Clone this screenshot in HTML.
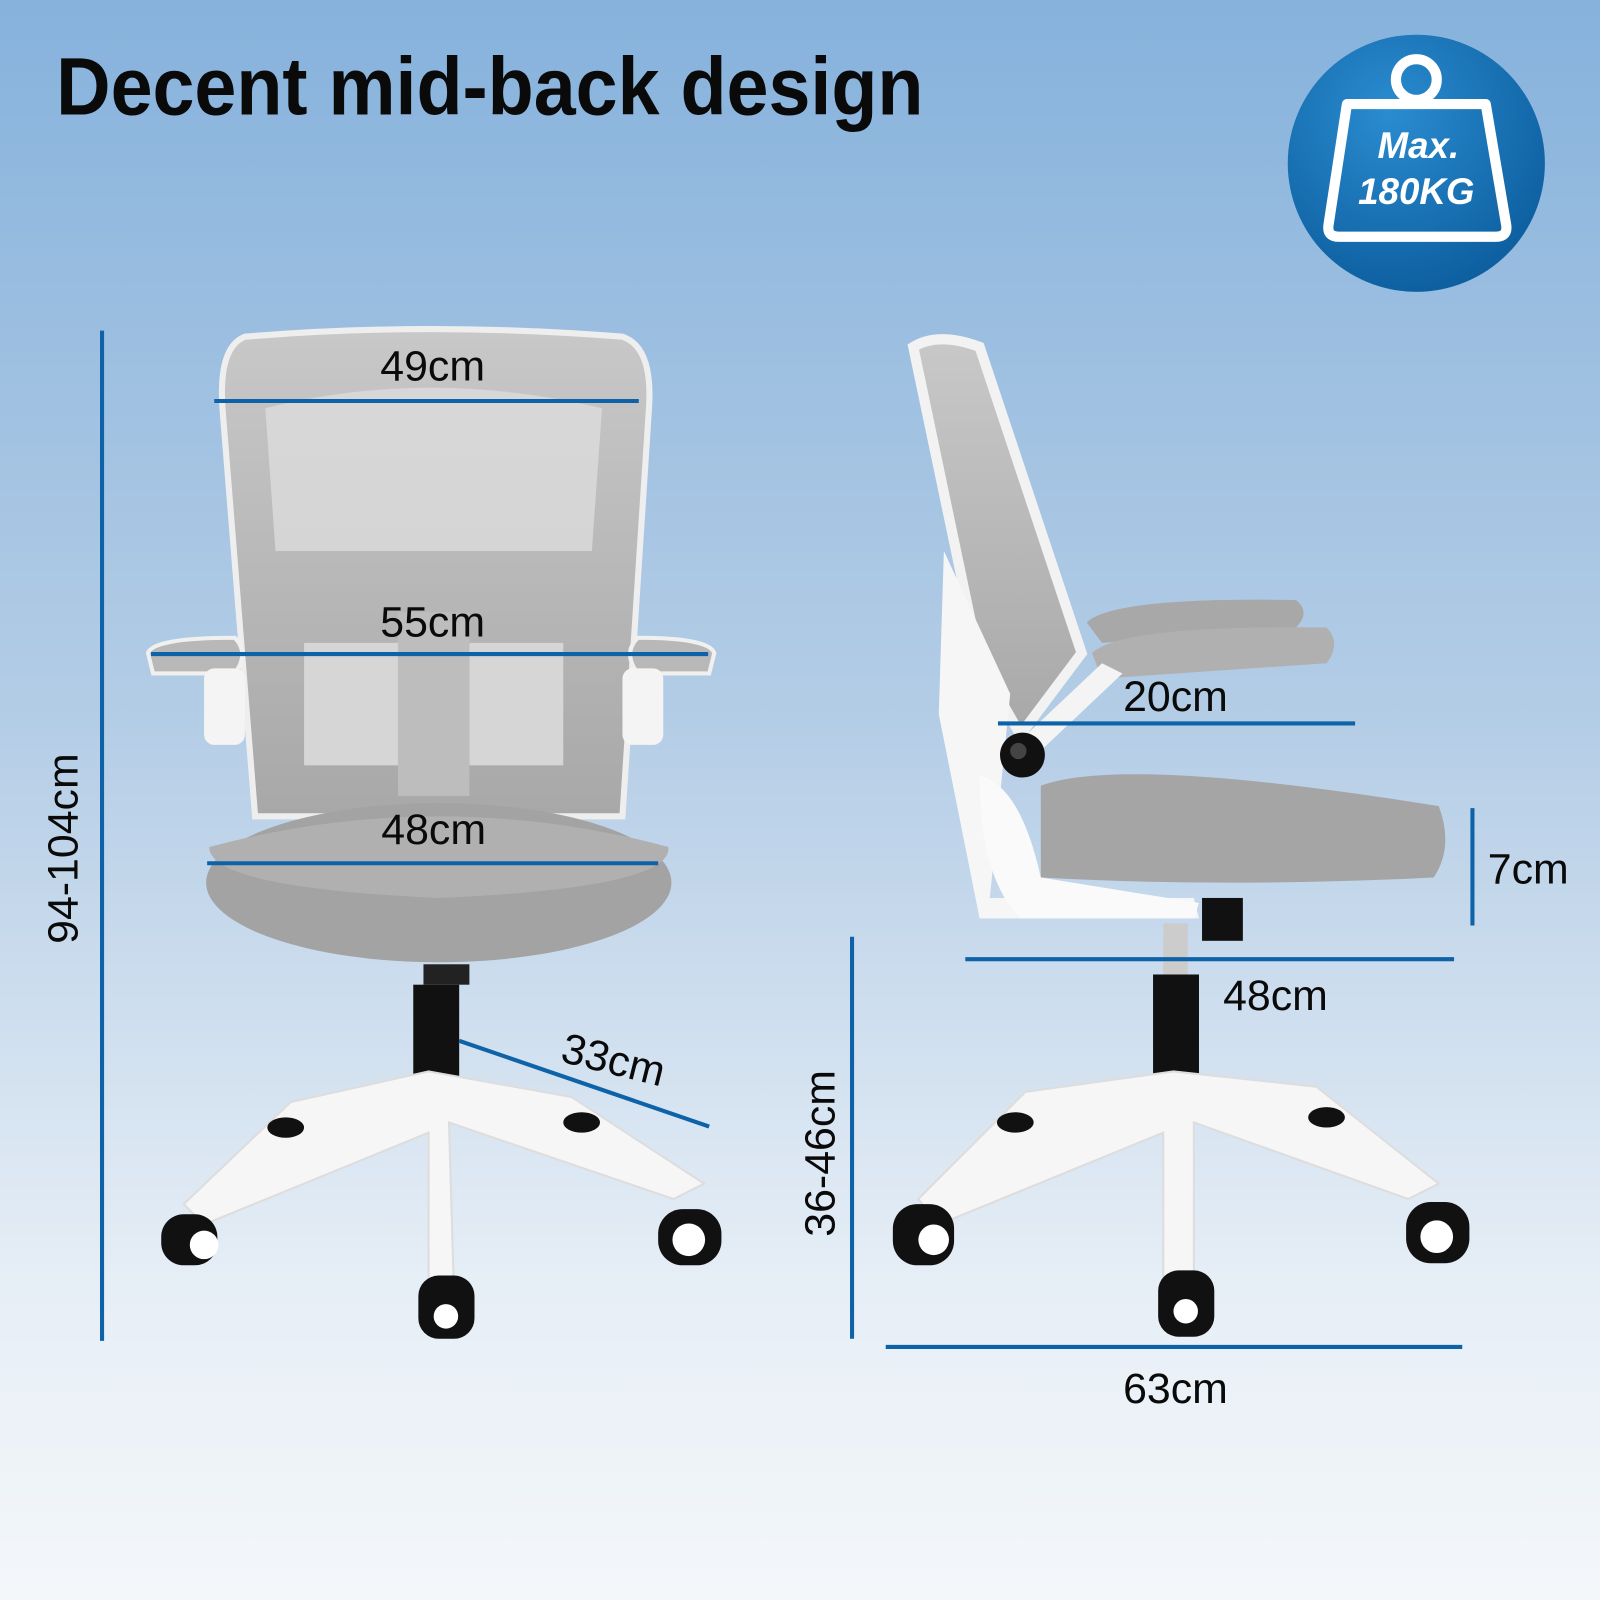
<!DOCTYPE html>
<html><head><meta charset="utf-8"><style>
html,body{margin:0;padding:0;width:1600px;height:1600px;overflow:hidden}
svg{display:block}
text{font-family:"Liberation Sans",sans-serif}
</style></head><body>
<svg width="1600" height="1600" viewBox="0 0 1568 1568" xmlns="http://www.w3.org/2000/svg">
<defs>
<linearGradient id="bg" x1="0" y1="0" x2="0" y2="1">
<stop offset="0" stop-color="#86b2dc"/><stop offset="0.45" stop-color="#b4cde6"/><stop offset="0.8" stop-color="#e6eef6"/><stop offset="1" stop-color="#f4f7fa"/></linearGradient>
<radialGradient id="badge" cx="0.4" cy="0.3" r="0.8"><stop offset="0" stop-color="#2a8cd0"/><stop offset="1" stop-color="#0a5a9a"/></radialGradient>
<linearGradient id="mesh" x1="0" y1="0" x2="0" y2="1"><stop offset="0" stop-color="#c8c8c8"/><stop offset="1" stop-color="#a8a8a8"/></linearGradient>
</defs>
<rect width="1568" height="1568" fill="url(#bg)"/>
<text x="55" y="112" font-size="80" font-weight="bold" fill="#0a0a0a" textLength="850" lengthAdjust="spacingAndGlyphs">Decent mid-back design</text>
<circle cx="1388" cy="160" r="126" fill="url(#badge)"/>
<circle cx="1388" cy="78" r="20" fill="none" stroke="#fff" stroke-width="10"/>
<path d="M1320 102 H1456 L1476 220 Q1478 232 1466 232 H1312 Q1300 232 1302 220 Z" fill="none" stroke="#fff" stroke-width="10" stroke-linejoin="round"/>
<text x="1390" y="155" font-size="36" font-weight="bold" font-style="italic" fill="#fff" text-anchor="middle">Max.</text>
<text x="1388" y="200" font-size="36" font-weight="bold" font-style="italic" fill="#fff" text-anchor="middle">180KG</text>

<g>
<path d="M240 330 Q420 315 610 330 Q640 340 636 400 L610 800 H250 L218 400 Q214 340 240 330Z" fill="url(#mesh)" stroke="#eee" stroke-width="6"/>
<path d="M260 400 Q420 360 590 400 L580 540 H270Z" fill="#dcdcdc" opacity="0.8"/>
<rect x="298" y="630" width="92" height="120" fill="#d6d6d6"/><rect x="460" y="630" width="92" height="120" fill="#d6d6d6"/>
<rect x="390" y="600" width="70" height="180" fill="#bdbdbd"/>
<path d="M145 640 Q150 625 230 625 Q245 640 230 660 H150Z" fill="#b8b8b8" stroke="#f0f0f0" stroke-width="4"/>
<path d="M700 640 Q695 625 625 625 Q610 640 625 660 H695Z" fill="#b8b8b8" stroke="#f0f0f0" stroke-width="4"/>
<rect x="200" y="655" width="40" height="75" rx="10" fill="#f4f4f4"/><rect x="610" y="655" width="40" height="75" rx="10" fill="#f4f4f4"/>
<ellipse cx="430" cy="865" rx="228" ry="78" fill="#a3a3a3"/>
<path d="M205 830 Q430 770 655 830 Q660 870 430 880 Q205 870 205 830Z" fill="#b0b0b0"/>
<rect x="405" y="965" width="45" height="100" fill="#111"/>
<rect x="415" y="945" width="45" height="20" fill="#222"/>
<path d="M285 1080 L420 1050 L560 1075 L690 1160 L660 1175 L440 1100 L445 1270 L420 1270 L420 1110 L200 1200 L180 1180 Z" fill="#f6f6f6" stroke="#ddd" stroke-width="2"/>
<g fill="#111"><rect x="158" y="1190" width="55" height="50" rx="22"/><rect x="645" y="1185" width="62" height="55" rx="24"/><rect x="410" y="1250" width="55" height="62" rx="20"/><ellipse cx="280" cy="1105" rx="18" ry="10"/><ellipse cx="570" cy="1100" rx="18" ry="10"/></g>
<g fill="#fff"><circle cx="200" cy="1220" r="14"/><circle cx="675" cy="1215" r="16"/><circle cx="437" cy="1290" r="12"/></g>
</g>

<g>
<path d="M895 340 Q920 325 960 340 L1060 640 L1000 720 L960 650 Z" fill="url(#mesh)" stroke="#f2f2f2" stroke-width="10"/>
<path d="M925 540 L990 680 L970 880 L1170 880 L1175 900 L960 900 L920 700Z" fill="#f6f6f6"/>
<path d="M1065 610 Q1090 585 1270 588 Q1285 600 1270 615 L1080 630Z" fill="#a8a8a8"/>
<path d="M1070 640 Q1100 612 1300 615 Q1315 630 1300 650 L1080 665Z" fill="#b0b0b0"/>
<path d="M990 735 L1080 650 L1100 660 L1010 745Z" fill="#f4f4f4"/>
<path d="M1020 770 Q1100 740 1410 790 Q1425 830 1405 860 Q1200 870 1020 860Z" fill="#a5a5a5"/>
<path d="M960 760 Q1000 770 1020 860 L1175 885 L1170 900 L1000 900 Q960 860 960 760Z" fill="#fafafa"/>
<circle cx="1002" cy="740" r="22" fill="#111"/><circle cx="998" cy="736" r="8" fill="#444"/>
<rect x="1178" y="880" width="40" height="42" fill="#111"/>
<rect x="1140" y="905" width="24" height="50" fill="#ccc"/>
<rect x="1130" y="955" width="45" height="100" fill="#111"/>
<path d="M1005 1070 L1150 1050 L1290 1065 L1410 1160 L1380 1175 L1170 1100 L1170 1260 L1140 1260 L1140 1110 L920 1200 L900 1175Z" fill="#f6f6f6" stroke="#ddd" stroke-width="2"/>
<g fill="#111"><rect x="875" y="1180" width="60" height="60" rx="24"/><rect x="1378" y="1178" width="62" height="60" rx="24"/><rect x="1135" y="1245" width="55" height="65" rx="20"/><ellipse cx="995" cy="1100" rx="18" ry="10"/><ellipse cx="1300" cy="1095" rx="18" ry="10"/></g>
<g fill="#fff"><circle cx="915" cy="1215" r="15"/><circle cx="1408" cy="1212" r="16"/><circle cx="1162" cy="1285" r="12"/></g>
</g>

<g stroke="#0d62a8" stroke-width="4">
<line x1="100" y1="324" x2="100" y2="1314"/>
<line x1="210" y1="393" x2="626" y2="393"/>
<line x1="148" y1="641" x2="694" y2="641"/>
<line x1="203" y1="846" x2="645" y2="846"/>
<line x1="450" y1="1020" x2="695" y2="1104"/>
<line x1="835" y1="918" x2="835" y2="1312"/>
<line x1="978" y1="709" x2="1328" y2="709"/>
<line x1="1443" y1="792" x2="1443" y2="907"/>
<line x1="946" y1="940" x2="1425" y2="940"/>
<line x1="868" y1="1320" x2="1433" y2="1320"/>
</g>
<g font-size="42" fill="#0a0a0a">
<text x="424" y="373" text-anchor="middle">49cm</text>
<text x="424" y="624" text-anchor="middle">55cm</text>
<text x="425" y="827" text-anchor="middle">48cm</text>
<text x="0" y="0" transform="translate(548 1040) rotate(14)">33cm</text>
<text x="0" y="0" transform="translate(76 925) rotate(-90)">94-104cm</text>
<text x="0" y="0" transform="translate(818 1212) rotate(-90)">36-46cm</text>
<text x="1152" y="697" text-anchor="middle">20cm</text>
<text x="1458" y="866">7cm</text>
<text x="1250" y="990" text-anchor="middle">48cm</text>
<text x="1152" y="1375" text-anchor="middle">63cm</text>
</g>
</svg>
</body></html>
